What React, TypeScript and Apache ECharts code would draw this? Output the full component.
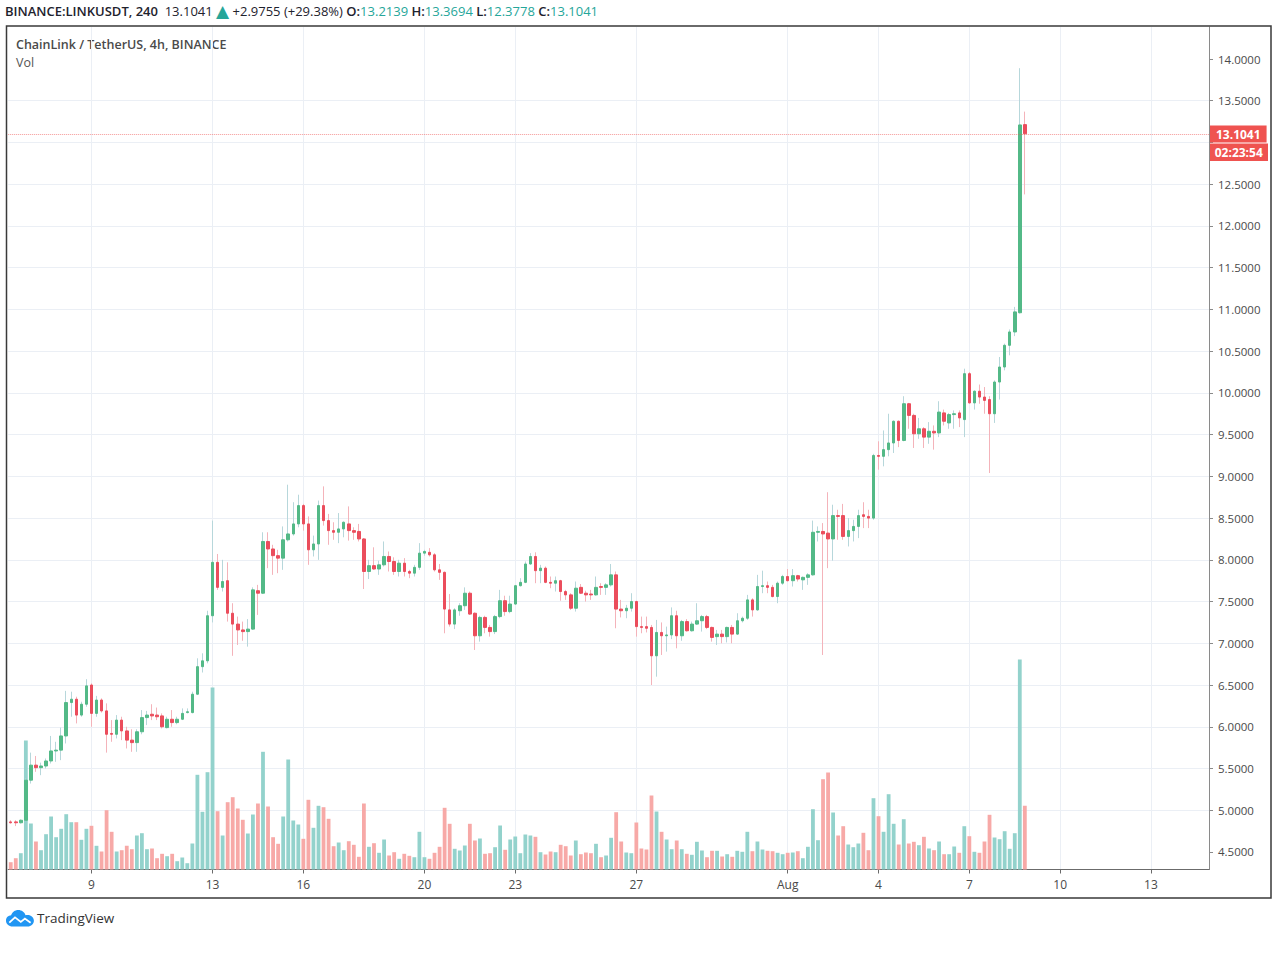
import React, { useEffect, useRef } from 'react';
import * as echarts from 'echarts';

// ---------- DATA (4h candles, LINK/USDT, starting 2020-07-06 08:00 UTC) ----------
const opens = [
  4.86, 4.86, 4.85, 4.88, 5.36, 5.54, 5.51, 5.53, 5.59, 5.71, 5.72, 5.89, 6.29, 6.33, 6.14, 6.27, 6.50, 6.16, 6.32, 6.19,
  5.92, 5.91, 6.08, 5.95, 5.84, 5.81, 5.94, 6.11, 6.15, 6.14, 6.13, 5.99, 6.09, 6.05, 6.09, 6.17, 6.17, 6.39, 6.72, 6.79,
  7.33, 7.97, 7.67, 7.75, 7.36, 7.23, 7.16, 7.14, 7.17, 7.63, 7.60, 8.22, 8.13, 8.05, 8.02, 8.24, 8.31, 8.43, 8.65, 8.43,
  8.12, 8.19, 8.65, 8.47, 8.35, 8.33, 8.37, 8.43, 8.35, 8.34, 8.25, 7.86, 7.93, 7.89, 7.94, 8.04, 7.98, 7.86, 7.96, 7.86,
  7.84, 7.91, 8.08, 8.09, 8.06, 7.88, 7.85, 7.40, 7.23, 7.39, 7.45, 7.60, 7.36, 7.09, 7.31, 7.19, 7.14, 7.32, 7.51, 7.38,
  7.47, 7.69, 7.73, 7.95, 8.04, 7.87, 7.90, 7.73, 7.72, 7.75, 7.62, 7.58, 7.42, 7.67, 7.60, 7.59, 7.58, 7.68, 7.67, 7.70,
  7.82, 7.41, 7.39, 7.42, 7.50, 7.20, 7.20, 7.19, 6.85, 7.13, 7.09, 7.10, 7.33, 7.09, 7.26, 7.15, 7.23, 7.27, 7.32, 7.19,
  7.08, 7.11, 7.08, 7.19, 7.11, 7.27, 7.30, 7.52, 7.40, 7.68, 7.69, 7.67, 7.56, 7.72, 7.80, 7.75, 7.81, 7.76, 7.79, 7.82,
  8.33, 8.34, 8.32, 8.25, 8.53, 8.53, 8.28, 8.35, 8.40, 8.54, 8.52, 8.50, 9.25, 9.24, 9.32, 9.40, 9.66, 9.43, 9.87, 9.73,
  9.51, 9.57, 9.47, 9.54, 9.52, 9.76, 9.64, 9.74, 9.76, 9.68, 10.23, 9.88, 10.02, 9.95, 9.92, 9.75, 10.13, 10.31, 10.57, 10.73,
  10.96, 13.2139,
];
const highs = [
  4.88, 4.88, 4.89, 5.38, 5.69, 5.65, 5.57, 5.62, 5.89, 5.82, 5.99, 6.43, 6.42, 6.36, 6.30, 6.57, 6.52, 6.37, 6.34, 6.28,
  6.08, 6.14, 6.12, 6.00, 5.97, 5.97, 6.20, 6.19, 6.27, 6.23, 6.16, 6.12, 6.20, 6.12, 6.22, 6.22, 6.42, 6.82, 6.88, 7.39,
  8.47, 8.07, 8.00, 7.97, 7.48, 7.32, 7.26, 7.29, 7.67, 7.70, 8.33, 8.33, 8.18, 8.12, 8.40, 8.90, 8.69, 8.78, 8.67, 8.52,
  8.29, 8.71, 8.88, 8.55, 8.45, 8.56, 8.46, 8.64, 8.39, 8.43, 8.26, 8.00, 8.15, 7.99, 8.22, 8.10, 8.03, 8.00, 8.02, 7.88,
  7.94, 8.20, 8.12, 8.14, 8.08, 7.95, 7.86, 7.59, 7.42, 7.48, 7.67, 7.62, 7.37, 7.33, 7.33, 7.22, 7.34, 7.64, 7.57, 7.57,
  7.70, 7.78, 7.98, 8.08, 8.09, 7.94, 7.92, 7.80, 7.80, 7.76, 7.64, 7.60, 7.74, 7.71, 7.63, 7.64, 7.80, 7.72, 7.72, 7.95,
  7.86, 7.52, 7.46, 7.60, 7.51, 7.32, 7.32, 7.22, 7.28, 7.25, 7.20, 7.43, 7.39, 7.28, 7.29, 7.26, 7.48, 7.34, 7.34, 7.20,
  7.16, 7.16, 7.20, 7.22, 7.36, 7.32, 7.58, 7.54, 7.82, 7.87, 7.74, 7.70, 7.74, 7.82, 7.89, 7.89, 7.82, 7.80, 7.84, 8.47,
  8.40, 8.44, 8.81, 8.66, 8.60, 8.67, 8.50, 8.48, 8.60, 8.69, 8.60, 9.27, 9.42, 9.55, 9.75, 9.67, 9.67, 9.96, 9.88, 9.75,
  9.70, 9.59, 9.65, 9.61, 9.90, 9.80, 9.76, 9.79, 9.79, 10.29, 10.25, 10.03, 10.10, 10.07, 9.96, 10.15, 10.43, 10.59, 10.76, 11.03,
  13.89, 13.3694,
];
const lows = [
  4.84, 4.81, 4.84, 4.87, 5.32, 5.46, 5.42, 5.50, 5.56, 5.58, 5.60, 5.80, 6.12, 6.04, 6.12, 6.24, 6.00, 6.12, 6.17, 5.69,
  5.82, 5.86, 5.84, 5.74, 5.70, 5.70, 5.91, 6.02, 6.08, 6.08, 5.98, 5.98, 6.00, 6.03, 6.08, 6.16, 6.16, 6.38, 6.65, 6.76,
  7.25, 7.64, 7.62, 7.26, 6.85, 6.98, 7.03, 6.96, 7.16, 7.34, 7.59, 7.90, 7.82, 7.84, 7.88, 8.22, 8.29, 8.39, 8.35, 7.94,
  8.04, 8.00, 8.41, 8.18, 8.24, 8.20, 8.27, 8.23, 8.24, 8.22, 7.65, 7.77, 7.88, 7.82, 7.92, 7.86, 7.82, 7.80, 7.80, 7.78,
  7.80, 7.88, 8.05, 8.04, 7.86, 7.76, 7.12, 7.20, 7.17, 7.33, 7.40, 7.34, 6.92, 7.02, 7.12, 7.08, 7.11, 7.30, 7.33, 7.36,
  7.46, 7.68, 7.72, 7.94, 7.72, 7.72, 7.72, 7.66, 7.62, 7.51, 7.52, 7.40, 7.38, 7.59, 7.50, 7.52, 7.57, 7.58, 7.58, 7.68,
  7.18, 7.31, 7.30, 7.38, 7.08, 7.12, 7.13, 6.50, 6.60, 6.86, 6.90, 7.05, 6.94, 7.03, 7.14, 7.14, 7.22, 7.14, 7.17, 7.02,
  6.98, 7.00, 7.01, 7.00, 7.10, 7.25, 7.28, 7.32, 7.39, 7.60, 7.60, 7.55, 7.48, 7.70, 7.74, 7.68, 7.74, 7.64, 7.70, 7.81,
  8.22, 6.86, 7.90, 7.99, 8.24, 8.24, 8.16, 8.22, 8.26, 8.38, 8.38, 8.48, 9.08, 9.12, 9.24, 9.28, 9.35, 9.42, 9.57, 9.34,
  9.45, 9.34, 9.39, 9.32, 9.47, 9.61, 9.57, 9.57, 9.59, 9.47, 9.87, 9.80, 9.87, 9.75, 9.04, 9.64, 9.92, 10.27, 10.45, 10.68,
  10.95, 12.3778,
];
const closes = [
  4.85, 4.85, 4.88, 5.36, 5.54, 5.51, 5.53, 5.59, 5.71, 5.72, 5.89, 6.29, 6.33, 6.14, 6.27, 6.49, 6.16, 6.32, 6.19, 5.91,
  5.91, 6.08, 5.95, 5.84, 5.81, 5.94, 6.11, 6.14, 6.13, 6.12, 6.00, 6.09, 6.05, 6.09, 6.16, 6.18, 6.39, 6.72, 6.79, 7.33,
  7.97, 7.67, 7.74, 7.36, 7.23, 7.16, 7.14, 7.17, 7.64, 7.60, 8.22, 8.13, 8.05, 8.02, 8.24, 8.31, 8.43, 8.65, 8.43, 8.12,
  8.19, 8.65, 8.47, 8.35, 8.33, 8.37, 8.45, 8.35, 8.33, 8.25, 7.86, 7.93, 7.89, 7.94, 8.04, 7.98, 7.86, 7.96, 7.86, 7.84,
  7.91, 8.08, 8.10, 8.06, 7.88, 7.85, 7.41, 7.23, 7.40, 7.45, 7.60, 7.35, 7.09, 7.31, 7.19, 7.14, 7.32, 7.51, 7.38, 7.47,
  7.69, 7.73, 7.95, 8.04, 7.87, 7.90, 7.73, 7.72, 7.75, 7.62, 7.58, 7.42, 7.66, 7.60, 7.58, 7.58, 7.67, 7.67, 7.70, 7.82,
  7.41, 7.39, 7.42, 7.50, 7.20, 7.19, 7.18, 6.85, 7.13, 7.09, 7.10, 7.33, 7.09, 7.26, 7.15, 7.23, 7.27, 7.32, 7.19, 7.07,
  7.11, 7.08, 7.19, 7.11, 7.27, 7.30, 7.52, 7.40, 7.68, 7.69, 7.67, 7.56, 7.72, 7.80, 7.75, 7.81, 7.77, 7.79, 7.82, 8.33,
  8.34, 8.31, 8.25, 8.53, 8.52, 8.28, 8.35, 8.40, 8.53, 8.52, 8.50, 9.25, 9.24, 9.32, 9.40, 9.66, 9.43, 9.87, 9.73, 9.51,
  9.57, 9.47, 9.54, 9.52, 9.77, 9.66, 9.74, 9.75, 9.70, 10.23, 9.88, 10.02, 9.95, 9.91, 9.75, 10.13, 10.31, 10.57, 10.73, 10.97,
  13.21, 13.1041,
];
// volume (relative units)
const volumes = [
  7.3, 11.3, 16.3, 129, 46, 28, 19.3, 35.3, 53, 32.3, 40.7, 55.3, 47.3, 47.3, 29.7, 40.7, 43.7, 23.7, 18, 59.3,
  37.7, 18, 19.3, 23.7, 20.3, 34, 36.3, 20.3, 21, 11.3, 15.7, 13.3, 15.7, 8.3, 12, 6.3, 26, 94.7, 57.7, 97.3,
  182, 58.3, 34, 67.3, 72.3, 61, 49.7, 36, 55, 66, 117.7, 63, 32.3, 25.7, 53, 110, 49, 45, 30.7, 69.7,
  41.7, 63.7, 62.3, 50.7, 23.3, 27, 19.3, 28.3, 24.7, 12.7, 66, 22.7, 26.3, 16.7, 30, 14, 17.3, 10.7, 15.7, 13.7,
  12.3, 37.7, 12.3, 10.7, 16.7, 22.7, 61.7, 45.7, 20.7, 19, 24, 45.7, 29, 31, 15.7, 16.3, 22.3, 44, 19.7, 30,
  33, 16.3, 35, 34, 32.7, 17.3, 15, 18, 17.3, 24.7, 23.3, 14, 29, 15.3, 17, 16.3, 25.7, 12.3, 14, 31.7,
  57.3, 28, 17, 16.3, 47, 21, 20, 74, 58, 37.7, 30, 20.3, 29, 20.3, 15.7, 14.7, 27.7, 19, 12.3, 18.7,
  18.7, 13, 15.3, 12.7, 18.7, 17.7, 37.7, 18.3, 28, 20, 18.7, 18.3, 16.7, 15.3, 16.7, 17, 18.3, 11.3, 22.7, 60.3,
  29.3, 90.3, 97, 57, 34, 43.3, 25, 22.3, 26, 36.7, 19.3, 71.3, 53.3, 37.7, 75.3, 45.7, 25, 50.3, 26, 27.7,
  24.3, 32.7, 21, 19.3, 28, 15.3, 15.3, 23, 16.7, 43.3, 33.3, 17.7, 16.7, 28, 54.7, 32, 30.3, 38.3, 20.7, 36.3,
  210, 63.7,
];
const priceTicks = [4.5, 5, 5.5, 6, 6.5, 7, 7.5, 8, 8.5, 9, 9.5, 10, 10.5, 11, 11.5, 12, 12.5, 13, 13.5, 14];
const xTickDates = ['2020-07-09', '2020-07-13', '2020-07-16', '2020-07-20', '2020-07-23', '2020-07-27', '2020-08-01', '2020-08-04', '2020-08-07', '2020-08-10', '2020-08-13'];
const xTickLabels = ['9', '13', '16', '20', '23', '27', 'Aug', '4', '7', '10', '13'];
const lastPrice = 13.1041;
const countdown = '02:23:54';
const SLOT_COUNT = 238;
const START_UTC = Date.UTC(2020, 6, 6, 8);

// ---------- STYLE ----------
const FONT = '"Open Sans", "Noto Sans", sans-serif';
const UP = '#53b987';
const DOWN = '#eb4d5c';
const UP_WICK = '#b7d7db';
const DOWN_WICK = '#f4b3ba';
const VOL_UP = '#93d2cc';
const VOL_DOWN = '#f7a9a7';
const GRID_LINE = '#ebeff5';
const TAG_RED = '#ef5350';

const CLOUD_PATH =
  'M8 20C3.6 20 0 17 0 13C0 9.3 2.8 6.7 6.2 6.5C7.4 2.7 10.9 0 15 0C19.2 0 22.6 2.7 23.8 6.3C24.7 6.1 25.6 6 26.5 6C30.6 6 34 9.1 34 13C34 17 30.6 20 26.5 20Z';
echarts.graphic.registerShape('tvcloud', echarts.graphic.extendPath(CLOUD_PATH, {}));

function buildCategories(): string[] {
  const out: string[] = [];
  for (let k = 0; k < SLOT_COUNT; k++) {
    const s = new Date(START_UTC + k * 4 * 3600 * 1000).toISOString();
    out.push(s.slice(0, 10) + ' ' + s.slice(11, 16));
  }
  return out;
}

export default function App() {
  const ref = useRef<HTMLDivElement>(null);

  useEffect(() => {
    if (!ref.current) return;
    const chart = echarts.init(ref.current, undefined, { renderer: 'svg' });
    const categories = buildCategories();
    const isTick = (v: string) => v.endsWith('00:00') && xTickDates.includes(v.slice(0, 10));
    const tickLabel = (v: string) => {
      const k = xTickDates.indexOf(v.slice(0, 10));
      return k >= 0 ? xTickLabels[k] : '';
    };
    // price labels hidden where the last-price / countdown tags cover them
    const priceLabels = priceTicks.filter((p) => !(p < lastPrice && p > lastPrice - 0.3));

    const wickData = opens.map((o, i) => [o, closes[i], lows[i], highs[i]]);
    const bodyData = opens.map((o, i) => [o, closes[i], Math.min(o, closes[i]), Math.max(o, closes[i])]);
    const volData = volumes.map((v, i) => ({
      value: v,
      itemStyle: { color: closes[i] >= opens[i] ? VOL_UP : VOL_DOWN },
    }));
    const maxVol = Math.max(...volumes);
    const volAxisMax = maxVol * (842.5 / 210);

    const option: any = {
      animation: false,
      backgroundColor: '#ffffff',
      textStyle: { fontFamily: FONT },
      grid: [
        { left: 8.2, right: 71, top: 17.265, bottom: 63.3 },
        { left: 8.2, right: 71, top: 27, bottom: 87.5 },
      ],
      xAxis: [
        {
          type: 'category',
          gridIndex: 0,
          data: categories,
          boundaryGap: true,
          show: false,
        },
        {
          type: 'category',
          gridIndex: 1,
          data: categories,
          boundaryGap: true,
          axisLine: { show: true, lineStyle: { color: '#6b6b6b', width: 1 } },
          axisTick: {
            show: true,
            alignWithLabel: true,
            length: 4,
            interval: (_i: number, v: string) => isTick(v),
            lineStyle: { color: '#6b6b6b' },
          },
          axisLabel: {
            show: true,
            interval: (_i: number, v: string) => isTick(v),
            formatter: (v: string) => tickLabel(v),
            color: '#4a4a4a',
            fontSize: 12,
            fontFamily: FONT,
            margin: 9,
          },
          splitLine: {
            show: true,
            alignWithLabel: true,
            interval: (_i: number, v: string) => isTick(v),
            lineStyle: { color: GRID_LINE, width: 1 },
          },
        },
      ],
      yAxis: [
        {
          type: 'value',
          gridIndex: 0,
          position: 'right',
          min: 4.0,
          max: 14.5,
          interval: 0.5,
          axisLine: { show: false },
          axisTick: {
            show: true,
            length: 4,
            customValues: priceTicks,
            lineStyle: { color: '#8a8a8a' },
          },
          axisLabel: {
            show: true,
            customValues: priceLabels,
            margin: 9,
            color: '#4a4a4a',
            fontSize: 11.5,
            fontFamily: FONT,
            formatter: (v: number) =>
              v < 4.4 || v > 14.1 || !priceLabels.some((p) => Math.abs(p - v) < 1e-6) ? '' : v.toFixed(4),
          },
          splitLine: {
            show: true,
            showMinLine: false,
            showMaxLine: false,
            lineStyle: { color: GRID_LINE, width: 1 },
          },
        },
        {
          type: 'value',
          gridIndex: 1,
          position: 'right',
          min: 0,
          max: volAxisMax,
          axisLine: { show: true, lineStyle: { color: '#8a8a8a', width: 1 } },
          axisTick: { show: false },
          axisLabel: { show: false },
          splitLine: { show: false },
        },
      ],
      series: [
        {
          name: 'Vol',
          type: 'bar',
          xAxisIndex: 1,
          yAxisIndex: 1,
          data: volData,
          barWidth: 3.8,
          silent: true,
        },
        {
          name: 'wicks',
          type: 'candlestick',
          xAxisIndex: 0,
          yAxisIndex: 0,
          data: wickData,
          barWidth: 1,
          silent: true,
          itemStyle: {
            color: UP_WICK,
            color0: DOWN_WICK,
            borderColor: UP_WICK,
            borderColor0: DOWN_WICK,
            borderWidth: 1,
          },
        },
        {
          name: 'LINKUSDT',
          type: 'candlestick',
          xAxisIndex: 0,
          yAxisIndex: 0,
          data: bodyData,
          barWidth: 3,
          silent: true,
          itemStyle: {
            color: UP,
            color0: DOWN,
            borderColor: UP,
            borderColor0: DOWN,
            borderWidth: 1,
          },
          markLine: {
            silent: true,
            symbol: ['none', 'none'],
            lineStyle: { type: 'dotted', color: 'rgba(239,83,80,0.6)', width: 1 },
            label: {
              show: true,
              position: 'end',
              distance: 1,
              formatter: () => lastPrice.toFixed(4),
              backgroundColor: TAG_RED,
              color: '#ffffff',
              fontWeight: 'bold',
              fontSize: 12,
              fontFamily: FONT,
              padding: [3, 6, 2, 6],
            },
            data: [{ yAxis: lastPrice }],
          },
        },
      ],
      graphic: [
        {
          type: 'text',
          x: 5,
          y: 11,
          silent: true,
          style: {
            text:
              '{t|BINANCE:LINKUSDT, 240}  {n|' + lastPrice.toFixed(4) + '} {a|▲} {n|+2.9755 (+29.38%)} ' +
              '{t|O:}{g|13.2139} {t|H:}{g|13.3694} {t|L:}{g|12.3778} {t|C:}{g|' + lastPrice.toFixed(4) + '}',
            verticalAlign: 'middle',
            font: '13px ' + FONT,
            fill: '#1e222d',
            rich: {
              t: { fontWeight: 600, fill: '#1e222d', fontSize: 13, fontFamily: FONT },
              n: { fill: '#1e222d', fontSize: 13, fontFamily: FONT },
              g: { fill: '#26a69a', fontSize: 13, fontFamily: FONT },
              a: { fill: '#26a69a', fontSize: 17, fontFamily: '"DejaVu Sans", sans-serif' },
            },
          },
        },
        {
          type: 'text',
          x: 16,
          y: 44,
          silent: true,
          style: {
            text: 'ChainLink / TetherUS, 4h, BINANCE',
            verticalAlign: 'middle',
            font: '600 12.5px ' + FONT,
            fill: '#4a4a4a',
          },
        },
        {
          type: 'text',
          x: 16,
          y: 62,
          silent: true,
          style: { text: 'Vol', verticalAlign: 'middle', font: '12.5px ' + FONT, fill: '#555555' },
        },
        {
          type: 'rect',
          silent: true,
          z: 100,
          shape: { x: 6.5, y: 26, width: 1264.5, height: 872 },
          style: { fill: 'none', stroke: '#3a3a3a', lineWidth: 1.5 },
        },
        {
          type: 'group',
          silent: true,
          z: 101,
          children: [
            {
              type: 'rect',
              shape: { x: 1209.5, y: 143.5, width: 58.5, height: 17.5 },
              style: { fill: TAG_RED },
            },
            {
              type: 'text',
              x: 1238.75,
              y: 152.5,
              style: {
                text: countdown,
                align: 'center',
                verticalAlign: 'middle',
                font: 'bold 12px ' + FONT,
                fill: '#ffffff',
              },
            },
          ],
        },
        {
          type: 'tvcloud',
          x: 6,
          y: 910,
          scaleX: 0.82,
          scaleY: 0.82,
          silent: true,
          style: { fill: '#2196f3' },
        },
        {
          type: 'polyline',
          silent: true,
          z: 102,
          shape: { points: [[9.3, 922.7], [15, 917.4], [20.8, 921.9], [24.9, 918.6], [30.6, 922.7]] },
          style: { stroke: '#ffffff', lineWidth: 1.8, fill: 'none' },
        },
        {
          type: 'text',
          x: 37,
          y: 918,
          silent: true,
          style: { text: 'TradingView', verticalAlign: 'middle', font: '13.5px ' + FONT, fill: '#333333' },
        },
      ],
    };

    chart.setOption(option);
    return () => chart.dispose();
  }, []);

  return (
    <div
      ref={ref}
      style={{ position: 'fixed', left: 0, top: 0, width: 1280, height: 957, background: '#ffffff' }}
    />
  );
}
